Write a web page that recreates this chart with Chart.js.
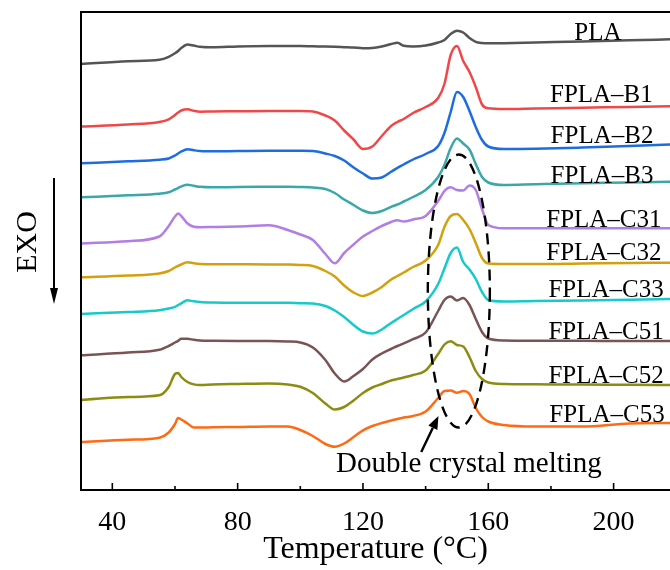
<!DOCTYPE html>
<html>
<head>
<meta charset="utf-8">
<script src="https://cdn.jsdelivr.net/npm/chart.js@4"></script>
<style>
  body { margin: 0; background: #fff; }
  canvas { display: block; }
</style>
</head>
<body>
<canvas id="dsc" width="670" height="570"></canvas>
<script>
// temperature grid (°C) shared by all curves
const temps = [30, 45, 55, 58, 60, 61, 62, 64, 66, 68, 72, 80, 90, 96, 100, 104, 108, 111, 114, 117,
    120, 123, 126, 129, 131, 133, 136, 140, 144, 146, 148, 150, 152, 154, 156, 158, 160, 165, 175, 190, 205, 218];

// heat flow, stacked curves (a.u., up = endo)
const pla = [426, 428.7, 430.2, 433.2, 436.7, 439, 442, 445.4, 444.4, 443.2, 442.7, 443.5, 444, 444, 444, 443.7, 443.5, 443.2, 442.8, 442.4,
    441.8, 442, 443.5, 446, 447.2, 444.2, 443.5, 444.4, 447.5, 450, 456, 459.3, 457.5, 452, 448.2, 447, 446.7, 446.8, 447.5, 448.5, 449.7, 450.7];
const b1 = [363.5, 365.5, 368, 370.7, 375, 377.5, 379.5, 380.7, 379.2, 378.3, 378.5, 378.7, 379, 379, 379, 378.5, 374.5, 369.5, 359.5, 350.5,
    341, 343.5, 354, 364, 368, 371, 377, 383, 392, 406, 435, 444, 429, 418, 403, 385.5, 381.7, 381, 381.5, 382.3, 383, 383.7];
const b2 = [326.7, 328.7, 330.3, 331.5, 334.5, 336.5, 338.5, 340.8, 339.8, 339, 338.7, 339, 339.3, 339.3, 339.2, 339, 336.5, 334, 329.5, 322.5,
    316.5, 311.5, 312.5, 318.2, 322.2, 325.5, 330.5, 336, 344, 357, 378, 398, 393, 379, 363, 350, 343.5, 341, 341.3, 342.5, 344, 345.5];
const b3 = [292.7, 294.7, 296.3, 297.7, 300.5, 302, 303.5, 305.2, 304.2, 303.2, 302.7, 303, 303.2, 303.3, 303, 302.5, 301, 297, 290.5, 285,
    279.5, 277, 279, 283.2, 285.5, 288.5, 293, 300, 313, 325, 342, 351.5, 346.5, 340.5, 326, 313, 307.5, 305, 305.7, 306.7, 307.5, 308.3];
const c31 = [246.5, 248.8, 253.5, 264, 273.5, 276.5, 274, 266.5, 263.3, 262.8, 263, 263.5, 264.7, 260, 255.5, 250, 236, 226.7, 237, 245.5,
    253.5, 259, 264, 268, 269.8, 268.5, 270.5, 274, 289, 299, 302.7, 300, 299.5, 304.5, 300, 281, 265, 261.7, 261.7, 261.7, 261.7, 261.7];
const c32 = [212.7, 214.5, 216.5, 219, 222.5, 224, 225.5, 227.8, 226.7, 226, 225.8, 225.7, 225.6, 225.4, 225, 224, 219, 213.5, 204.5, 197.5,
    194, 197.5, 203, 210.5, 214, 217.5, 223, 229.5, 245, 263, 274, 276, 270, 261, 247, 232, 226.5, 226, 226, 226.5, 227, 227.3];
const c33 = [176, 178, 179.8, 181.5, 183.2, 185, 186.7, 189.7, 188.7, 188, 187.5, 187.3, 187.3, 187.2, 186.8, 186.4, 184, 179.5, 173, 165,
    158.5, 156.5, 160.5, 167, 171, 175, 181, 188.5, 206, 221.5, 237, 242.5, 228, 220.5, 211, 198, 190, 188.5, 189, 189.5, 190.2, 191];
const c51 = [134.7, 137.5, 140.2, 144, 147.5, 149.2, 151.2, 151.2, 150.2, 149.5, 149.2, 149, 149, 148.5, 147.5, 142.5, 130, 116.5, 108.5, 114,
    121, 130.5, 136.5, 141, 144, 146.7, 150.8, 157.5, 179, 190, 193.5, 189.5, 192, 185, 171, 158, 151.5, 149.5, 149.3, 149.2, 149, 149];
const c52 = [90, 93, 94.7, 103, 116, 117, 113, 108, 105.6, 105, 105.5, 106, 106.5, 105.5, 103.3, 97, 86.5, 80.5, 83, 89.5,
    97, 102.5, 106, 109.5, 111, 112.5, 115, 119.5, 136, 145.5, 148.8, 145, 143.5, 133, 119, 111, 107.5, 106, 105.7, 105.5, 105.2, 105];
const c53 = [48, 50.2, 52.3, 57.5, 66, 72, 70.5, 66.5, 62.5, 62.4, 62.7, 63, 63.5, 63.5, 60, 54, 46, 43.3, 46.5, 53,
    59.7, 64, 67, 69.5, 71, 72.5, 74, 78.5, 92, 99, 99.5, 97.3, 99, 96, 82, 73, 68.5, 65, 63.5, 63.5, 66.5, 67];

const seriesNames = ['PLA', 'FPLA\u2013B1', 'FPLA\u2013B2', 'FPLA\u2013B3', 'FPLA\u2013C31',
    'FPLA\u2013C32', 'FPLA\u2013C33', 'FPLA\u2013C51', 'FPLA\u2013C52', 'FPLA\u2013C53'];
const seriesValues = [pla, b1, b2, b3, c31, c32, c33, c51, c52, c53];
const xTicks = [40, 80, 120, 160, 200];
const xMinorTicks = [60, 100, 140, 180];

const colors = ['#555555', '#f04848', '#1e6de0', '#3aa8a8', '#b27de4',
    '#d3a00e', '#16c9cc', '#7a5454', '#8c8c12', '#ff6a14'];

// where the curve names sit (temperature, heat flow)
const nameSpots = [[195, 450], [196.1, 388], [196.3, 347], [196.3, 307], [196.9, 263],
    [196.9, 230], [197.6, 193], [197.6, 151], [197.6, 107], [197.9, 68]];

const SERIF = '"Liberation Serif", "Times New Roman", serif';

const overlay = {
    id: 'overlay',
    afterDraw(chart) {
        const { ctx, chartArea: a, scales: { x, y } } = chart;
        ctx.save();

        // frame (left, top, bottom)
        ctx.strokeStyle = '#000';
        ctx.lineWidth = 2;
        ctx.beginPath();
        ctx.moveTo(a.right + 2, a.top);
        ctx.lineTo(a.left, a.top);
        ctx.lineTo(a.left, a.bottom);
        ctx.lineTo(a.right + 2, a.bottom);
        ctx.stroke();

        // inward ticks
        ctx.lineWidth = 1.6;
        ctx.beginPath();
        xTicks.forEach(t => {
            const px = x.getPixelForValue(t);
            ctx.moveTo(px, a.bottom);
            ctx.lineTo(px, a.bottom - 7);
        });
        xMinorTicks.forEach(t => {
            const px = x.getPixelForValue(t);
            ctx.moveTo(px, a.bottom);
            ctx.lineTo(px, a.bottom - 4);
        });
        ctx.stroke();

        // curve names
        ctx.fillStyle = '#000';
        ctx.font = '25px ' + SERIF;
        ctx.textAlign = 'center';
        ctx.textBaseline = 'alphabetic';
        nameSpots.forEach(([t, q], i) => {
            ctx.fillText(seriesNames[i], x.getPixelForValue(t), y.getPixelForValue(q));
        });

        // dashed ellipse round the melting peaks
        const cx = x.getPixelForValue(150.6);
        const cy = y.getPixelForValue(199);
        const rx = x.getPixelForValue(160.5) - cx;
        const ry = cy - y.getPixelForValue(335.5);
        ctx.setLineDash([11, 7]);
        ctx.lineWidth = 2.4;
        ctx.beginPath();
        ctx.ellipse(cx, cy, rx, ry, 0, 0, Math.PI * 2);
        ctx.stroke();
        ctx.setLineDash([]);

        // annotation text and arrow
        ctx.font = '29px ' + SERIF;
        ctx.textAlign = 'left';
        ctx.fillText('Double crystal melting', x.getPixelForValue(111.4), y.getPixelForValue(18));
        const x0 = x.getPixelForValue(138.6), y0 = y.getPixelForValue(38);
        const x1 = x.getPixelForValue(144.1), y1 = y.getPixelForValue(74);
        drawArrow(ctx, x0, y0, x1, y1, 2.4, 13, 5);

        // EXO with downward arrow, left of the axis
        ctx.save();
        ctx.translate(a.left - 45, 242);
        ctx.rotate(-Math.PI / 2);
        ctx.font = '30px ' + SERIF;
        ctx.textAlign = 'center';
        ctx.fillText('EXO', 0, 0);
        ctx.restore();
        drawArrow(ctx, a.left - 27, 178, a.left - 27, 304, 2, 16, 4);

        ctx.restore();
    }
};

function drawArrow(ctx, x0, y0, x1, y1, width, headLen, headHalf) {
    const ang = Math.atan2(y1 - y0, x1 - x0);
    const bx = x1 - headLen * Math.cos(ang);
    const by = y1 - headLen * Math.sin(ang);
    ctx.lineWidth = width;
    ctx.beginPath();
    ctx.moveTo(x0, y0);
    ctx.lineTo(bx, by);
    ctx.stroke();
    ctx.beginPath();
    ctx.moveTo(x1, y1);
    ctx.lineTo(bx + headHalf * Math.sin(ang), by - headHalf * Math.cos(ang));
    ctx.lineTo(bx - headHalf * Math.sin(ang), by + headHalf * Math.cos(ang));
    ctx.closePath();
    ctx.fill();
}

const datasets = seriesValues.map((vals, i) => ({
    label: seriesNames[i],
    data: temps.map((t, j) => ({ x: t, y: vals[j] })),
    borderColor: colors[i],
    borderWidth: 2.5,
    pointRadius: 0,
    cubicInterpolationMode: 'monotone',
    fill: false
}));

const ctx = document.getElementById('dsc').getContext('2d');
const dscChart = new Chart(ctx, {
    type: 'line',
    data: { datasets: datasets },
    options: {
        responsive: false,
        animation: false,
        layout: { padding: { left: 81, right: 0, top: 12, bottom: 0 } },
        plugins: {
            legend: { display: false },
            tooltip: { enabled: false }
        },
        scales: {
            x: {
                type: 'linear',
                min: 30,
                max: 218,
                grid: { display: false },
                border: { display: false },
                afterBuildTicks: scale => { scale.ticks = xTicks.map(v => ({ value: v })); },
                afterFit: scale => { scale.height = 80; },
                ticks: {
                    autoSkip: false,
                    maxRotation: 0,
                    padding: 8,
                    color: '#000',
                    font: { family: SERIF, size: 28 }
                },
                title: {
                    display: true,
                    text: 'Temperature (°C)',
                    color: '#000',
                    font: { family: SERIF, size: 32 },
                    padding: { top: 0, bottom: 1 }
                }
            },
            y: {
                display: false,
                min: 0,
                max: 478
            }
        }
    },
    plugins: [overlay]
});
</script>
</body>
</html>
